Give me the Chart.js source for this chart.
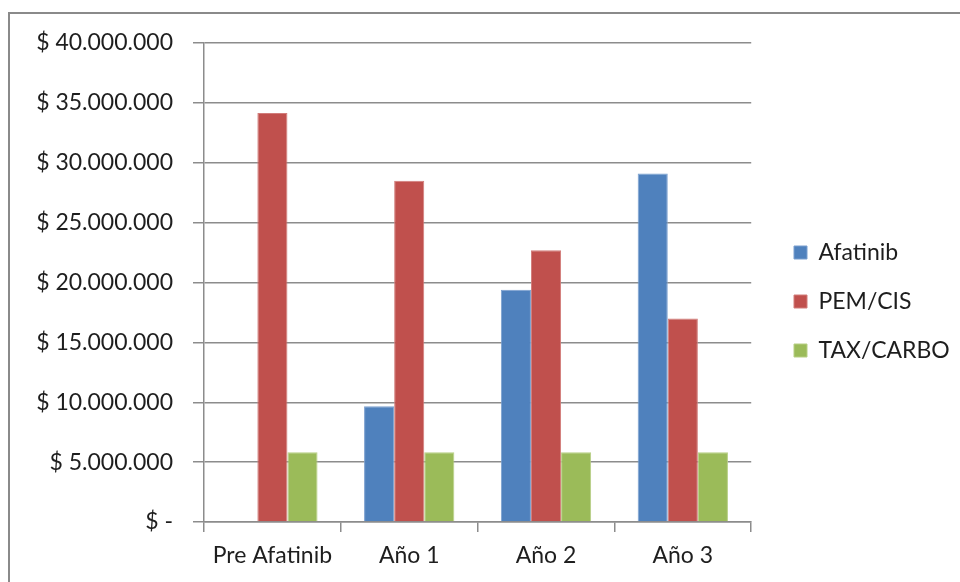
<!DOCTYPE html>
<html>
<head>
<meta charset="utf-8">
<script src="https://cdn.jsdelivr.net/npm/chart.js@4/dist/chart.umd.min.js"></script>
<style>
  html, body { margin: 0; padding: 0; background: #fff; overflow: hidden; }
  #frame {
    position: absolute; left: 8px; top: 12px; width: 1000px; height: 700px;
    border-left: 2px solid #8a8a8a; border-top: 2px solid #8a8a8a;
  }
  #wrap { position: absolute; left: 0; top: 0; width: 960px; height: 582px; }
</style>
</head>
<body>
<div id="frame"></div>
<div id="wrap"><canvas id="cost-chart"></canvas></div>
<script>
// Categories and series (values in pesos)
const categories = ['Pre Afatinib', 'Año 1', 'Año 2', 'Año 3'];
const afatinibValues = [0, 9670000, 19400000, 29100000];
const pemCisValues = [34150000, 28500000, 22700000, 17000000];
const taxCarboValues = [5830000, 5830000, 5830000, 5830000];
const yTicks = [0, 5000000, 10000000, 15000000, 20000000, 25000000, 30000000, 35000000, 40000000];

const fontFamily = 'Lato, "Open Sans", sans-serif';
const textColor = '#1e1e1e';
const gridColor = '#8c8c8c';

/**
 * Format a value like Excel's accounting style: "$ 5.000.000", zero as "$ -"
 */
function formatPesos(value) {
  if (value === 0) return '$ -';
  return '$ ' + Math.round(value).toString().replace(/\B(?=(\d{3})+(?!\d))/g, '.');
}

// Nudge the legend box so it sits where the original one does
const legendShift = {
  id: 'legendShift',
  afterLayout(chart) {
    const lg = chart.legend;
    if (!lg) return;
    const dx = 793 - (lg.left + 25);
    lg.left += dx; lg.right += dx;
    lg.top -= 11; lg.bottom -= 11;
  }
};

const ctx = document.getElementById('cost-chart');

const costChart = new Chart(ctx, {
  type: 'bar',
  data: {
    labels: categories,
    datasets: [
      { label: 'Afatinib', data: afatinibValues, backgroundColor: '#4f81bd', borderColor: '#7a9fcf', borderWidth: 1 },
      { label: 'PEM/CIS', data: pemCisValues, backgroundColor: '#c0504d', borderColor: '#d27c7a', borderWidth: 1 },
      { label: 'TAX/CARBO', data: taxCarboValues, backgroundColor: '#9bbb59', borderColor: '#b7cf84', borderWidth: 1 }
    ]
  },
  plugins: [legendShift],
  options: {
    responsive: true,
    maintainAspectRatio: false,
    animation: false,
    layout: { padding: { top: 43, left: 0, right: 17, bottom: 0 } },
    datasets: {
      bar: { categoryPercentage: 0.66, barPercentage: 1.0 }
    },
    plugins: {
      tooltip: { enabled: false },
      legend: {
        position: 'right',
        align: 'center',
        labels: {
          boxWidth: 13,
          boxHeight: 13,
          padding: 26,
          color: textColor,
          font: { family: fontFamily, size: 23 }
        }
      }
    },
    scales: {
      x: {
        grid: {
          display: true,
          drawOnChartArea: false,
          drawTicks: true,
          tickLength: 10,
          color: gridColor,
          lineWidth: 1.5
        },
        border: { display: true, color: gridColor, width: 1.5 },
        ticks: {
          color: textColor,
          font: { family: fontFamily, size: 23 },
          padding: 10,
          maxRotation: 0
        },
        afterFit: (scale) => { scale.height = 60; }
      },
      y: {
        min: 0,
        max: 40000000,
        afterBuildTicks: (scale) => { scale.ticks = yTicks.map(v => ({ value: v })); },
        grid: {
          color: gridColor,
          lineWidth: 1.5,
          drawTicks: true,
          tickLength: 11
        },
        border: { display: true, color: gridColor, width: 1.5 },
        ticks: {
          color: textColor,
          font: { family: fontFamily, size: 23 },
          padding: 20,
          callback: (value) => formatPesos(value)
        },
        afterFit: (scale) => { scale.width = 204; }
      }
    }
  }
});
</script>
</body>
</html>
